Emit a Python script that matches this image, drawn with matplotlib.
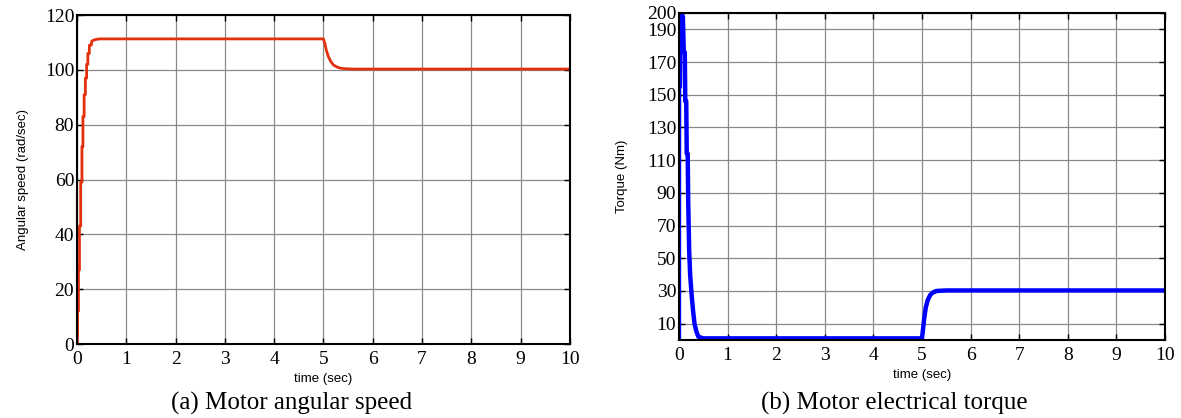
import matplotlib
matplotlib.use('Agg')
import matplotlib.pyplot as plt

# motor angular speed (rad/sec) vs time (sec)
speed_t = [0, 0.005, 0.005, 0.012, 0.012, 0.03, 0.03, 0.05, 0.05, 0.075, 0.075,
           0.1, 0.1, 0.12, 0.12, 0.145, 0.145, 0.17, 0.17, 0.195, 0.195, 0.22,
           0.22, 0.25, 0.25, 0.29, 0.3, 0.36, 0.45, 5.0, 5.03, 5.06, 5.1, 5.15,
           5.2, 5.28, 5.35, 5.45, 5.6, 10.0]
speed_w = [0, 0, 3, 3, 12, 12, 27, 27, 43, 43, 59,
           59, 72, 72, 83, 83, 91, 91, 97, 97, 102, 102,
           106, 106, 109, 109, 110.5, 111.0, 111.3, 111.3, 109.5, 107, 104.8, 103,
           101.8, 101.0, 100.6, 100.4, 100.3, 100.3]

# motor electrical torque (Nm) vs time (sec)
torque_t = [0, 0.0, 0.002, 0.02, 0.025, 0.04, 0.05, 0.06, 0.07, 0.08, 0.1,
            0.12, 0.13, 0.15, 0.16, 0.18, 0.19, 0.2, 0.21, 0.23, 0.26, 0.29,
            0.32, 0.36, 0.4, 0.5, 5.0, 5.02, 5.05, 5.08, 5.12, 5.17, 5.22, 5.3,
            5.5, 10.0]
torque_T = [0, 75, 155, 155, 195, 193, 200, 196, 190, 198, 176,
            176, 146, 146, 114, 114, 85, 70, 55, 40, 28, 18,
            10, 5, 2, 1, 1, 6, 14, 20, 24.5, 27.5, 29, 30,
            30.3, 30.3]

speed_yticks = [0, 20, 40, 60, 80, 100, 120]
torque_yticks = [10, 30, 50, 70, 90, 110, 130, 150, 170, 190, 200]
time_ticks = list(range(0, 11))

serif = 'Liberation Serif'
sans = 'Liberation Sans'

fig = plt.figure(figsize=(11.81, 4.18), dpi=100)
ax1 = fig.add_axes([0.0652, 0.177, 0.4174, 0.787])
ax2 = fig.add_axes([0.5749, 0.1866, 0.4115, 0.7823])

ax1.plot(speed_t, speed_w, color='#e2300e', lw=2.0)
ax2.plot(torque_t, torque_T, color='#0000ff', lw=3.2)

for ax, yt, ylim, ylab in [(ax1, speed_yticks, (0, 120), 'Angular speed (rad/sec)'),
                           (ax2, torque_yticks, (0, 200), 'Torque (Nm)')]:
    ax.set_xlim(0, 10)
    ax.set_ylim(*ylim)
    ax.set_xticks(time_ticks)
    ax.set_yticks(yt)
    ax.grid(True, color='#8a8a8a', lw=0.9)
    ax.tick_params(direction='in', length=4, width=1, top=True, right=True,
                   labelsize=14, pad=2)
    ax.tick_params(axis='x', pad=5)
    for lbl in ax.get_xticklabels() + ax.get_yticklabels():
        lbl.set_fontfamily(serif)
    for s in ax.spines.values():
        s.set_linewidth(1.5)
    ax.set_xlabel('time (sec)', fontfamily=sans, fontsize=9.5)
    ax.set_ylabel(ylab, fontfamily=sans, fontsize=9.5)

ax1.xaxis.set_label_coords(0.5, -0.088)
ax2.xaxis.set_label_coords(0.5, -0.088)
ax1.yaxis.set_label_coords(-0.098, 0.5)
ax2.yaxis.set_label_coords(-0.105, 0.5)

fig.text(292 / 1181, 1 - 403 / 418, '(a) Motor angular speed', fontfamily=serif,
         fontsize=18, ha='center', va='center')
fig.text(894 / 1181, 1 - 403 / 418, '(b) Motor electrical torque', fontfamily=serif,
         fontsize=18, ha='center', va='center')

fig.savefig('out.png', dpi=100)
